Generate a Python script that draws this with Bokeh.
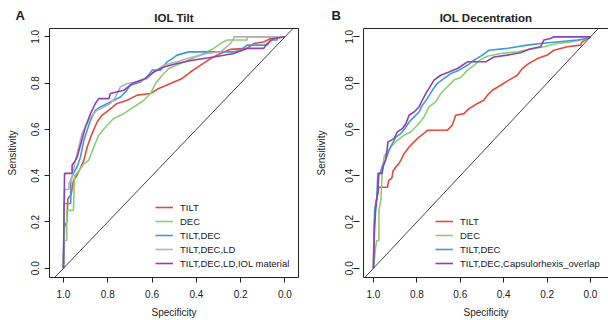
from bokeh.plotting import figure
from bokeh.layouts import row
from bokeh.models import (Range1d, FixedTicker, PrintfTickFormatter, Slope, Legend,
                          LegendItem, Title, LinearAxis)
from bokeh.embed import file_html
from bokeh.resources import INLINE

# ---------------- data ----------------
TICKS = [0.0, 0.2, 0.4, 0.6, 0.8, 1.0]

# Panel A: IOL Tilt
a_tilt_spec = [1.0, 1.0, 0.995, 0.985, 0.98, 0.965, 0.955, 0.94, 0.925, 0.908, 0.893, 0.871, 0.848, 0.826, 0.795, 0.758, 0.712, 0.667, 0.607, 0.570, 0.517, 0.464, 0.427, 0.382, 0.336, 0.291, 0.246, 0.171, 0.141, 0.096, 0.065, 0.0]
a_tilt_sens = [0.0, 0.05, 0.18, 0.20, 0.30, 0.32, 0.38, 0.40, 0.43, 0.466, 0.524, 0.582, 0.632, 0.661, 0.683, 0.712, 0.726, 0.748, 0.755, 0.777, 0.798, 0.820, 0.848, 0.877, 0.906, 0.928, 0.946, 0.950, 0.971, 0.978, 0.993, 1.0]

a_dec_spec = [1.0, 0.995, 0.985, 0.985, 0.955, 0.95, 0.93, 0.91, 0.886, 0.863, 0.841, 0.803, 0.773, 0.728, 0.682, 0.637, 0.607, 0.585, 0.554, 0.524, 0.472, 0.419, 0.367, 0.321, 0.291, 0.261, 0.171, 0.171, 0.0]
a_dec_sens = [0.0, 0.12, 0.12, 0.25, 0.25, 0.40, 0.42, 0.45, 0.466, 0.524, 0.575, 0.618, 0.647, 0.668, 0.697, 0.726, 0.755, 0.798, 0.834, 0.863, 0.885, 0.906, 0.928, 0.950, 0.971, 0.986, 0.986, 1.0, 1.0]

a_tiltdec_spec = [1.0, 0.997, 0.967, 0.967, 0.955, 0.938, 0.923, 0.908, 0.893, 0.878, 0.856, 0.833, 0.773, 0.743, 0.720, 0.698, 0.652, 0.622, 0.600, 0.562, 0.532, 0.509, 0.487, 0.434, 0.231, 0.201, 0.171, 0.080, 0.065, 0.035, 0.035, 0.0]
a_tiltdec_sens = [0.0, 0.28, 0.28, 0.38, 0.41, 0.44, 0.481, 0.553, 0.596, 0.639, 0.683, 0.697, 0.726, 0.740, 0.762, 0.791, 0.805, 0.827, 0.856, 0.856, 0.892, 0.906, 0.921, 0.935, 0.935, 0.942, 0.964, 0.964, 0.986, 0.986, 1.0, 1.0]

a_tiltdecld_spec = [1.0, 0.995, 0.975, 0.975, 0.96, 0.95, 0.931, 0.916, 0.893, 0.871, 0.848, 0.818, 0.788, 0.765, 0.743, 0.712, 0.667, 0.622, 0.592, 0.547, 0.487, 0.442, 0.352, 0.291, 0.246, 0.231, 0.231, 0.0]
a_tiltdecld_sens = [0.0, 0.34, 0.34, 0.365, 0.40, 0.45, 0.524, 0.582, 0.625, 0.661, 0.683, 0.697, 0.712, 0.740, 0.784, 0.798, 0.805, 0.820, 0.848, 0.877, 0.892, 0.906, 0.928, 0.935, 0.971, 0.993, 1.0, 1.0]

a_all_spec = [1.0, 0.997, 0.995, 0.961, 0.961, 0.946, 0.938, 0.901, 0.878, 0.856, 0.841, 0.795, 0.788, 0.728, 0.690, 0.630, 0.592, 0.547, 0.487, 0.419, 0.321, 0.231, 0.171, 0.096, 0.080, 0.050, 0.0]
a_all_sens = [0.0, 0.28, 0.41, 0.41, 0.445, 0.466, 0.481, 0.610, 0.668, 0.712, 0.733, 0.733, 0.755, 0.769, 0.798, 0.820, 0.848, 0.870, 0.885, 0.899, 0.913, 0.928, 0.950, 0.950, 0.971, 0.993, 1.0]

# Panel B: IOL Decentration
b_tilt_spec = [1.0, 1.0, 0.995, 0.99, 0.98, 0.975, 0.935, 0.93, 0.915, 0.91, 0.895, 0.885, 0.874, 0.859, 0.836, 0.813, 0.790, 0.759, 0.752, 0.660, 0.637, 0.621, 0.583, 0.560, 0.521, 0.491, 0.475, 0.452, 0.414, 0.376, 0.337, 0.314, 0.284, 0.245, 0.199, 0.169, 0.107, 0.046, 0.038, 0.0]
b_tilt_sens = [0.0, 0.05, 0.20, 0.28, 0.32, 0.35, 0.35, 0.38, 0.39, 0.42, 0.44, 0.45, 0.466, 0.495, 0.524, 0.546, 0.567, 0.589, 0.596, 0.596, 0.618, 0.661, 0.668, 0.690, 0.712, 0.726, 0.748, 0.769, 0.791, 0.813, 0.834, 0.863, 0.885, 0.906, 0.921, 0.942, 0.957, 0.964, 0.978, 1.0]

b_dec_spec = [1.0, 0.99, 0.985, 0.975, 0.975, 0.965, 0.96, 0.951, 0.943, 0.920, 0.890, 0.859, 0.828, 0.798, 0.767, 0.744, 0.713, 0.690, 0.660, 0.629, 0.598, 0.567, 0.537, 0.506, 0.475, 0.414, 0.337, 0.276, 0.215, 0.153, 0.092, 0.046, 0.015, 0.0]
b_dec_sens = [0.0, 0.09, 0.12, 0.12, 0.25, 0.30, 0.42, 0.481, 0.495, 0.524, 0.553, 0.575, 0.589, 0.618, 0.654, 0.697, 0.719, 0.755, 0.784, 0.813, 0.824, 0.856, 0.877, 0.902, 0.916, 0.928, 0.935, 0.946, 0.957, 0.971, 0.978, 0.986, 0.993, 1.0]

b_tiltdec_spec = [1.0, 0.995, 0.985, 0.98, 0.97, 0.96, 0.945, 0.928, 0.913, 0.897, 0.874, 0.856, 0.836, 0.813, 0.790, 0.775, 0.752, 0.729, 0.706, 0.675, 0.644, 0.606, 0.567, 0.537, 0.498, 0.468, 0.383, 0.291, 0.230, 0.061, 0.015, 0.0]
b_tiltdec_sens = [0.0, 0.25, 0.30, 0.41, 0.41, 0.44, 0.466, 0.510, 0.539, 0.567, 0.582, 0.603, 0.632, 0.654, 0.675, 0.704, 0.733, 0.769, 0.798, 0.820, 0.841, 0.856, 0.877, 0.899, 0.921, 0.942, 0.950, 0.964, 0.971, 0.986, 0.993, 1.0]

b_all_spec = [1.0, 0.995, 0.99, 0.985, 0.98, 0.975, 0.96, 0.955, 0.945, 0.939, 0.933, 0.905, 0.890, 0.867, 0.851, 0.836, 0.813, 0.790, 0.775, 0.759, 0.744, 0.721, 0.690, 0.652, 0.613, 0.567, 0.483, 0.445, 0.383, 0.322, 0.284, 0.230, 0.215, 0.184, 0.169, 0.0]
b_all_sens = [0.0, 0.18, 0.25, 0.30, 0.33, 0.41, 0.41, 0.44, 0.466, 0.50, 0.546, 0.560, 0.589, 0.603, 0.625, 0.661, 0.675, 0.697, 0.726, 0.755, 0.777, 0.813, 0.834, 0.848, 0.863, 0.892, 0.892, 0.913, 0.921, 0.931, 0.946, 0.957, 0.986, 0.993, 1.0, 1.0]

labels_a = ["TILT", "DEC", "TILT,DEC", "TILT,DEC,LD", "TILT,DEC,LD,IOL material"]
labels_b = ["TILT", "DEC", "TILT,DEC", "TILT,DEC,Capsulorhexis_overlap"]

RED, GREEN, BLUE, GRAY, PURPLE = "#E44B3C", "#8ACF74", "#3C9BDA", "#B4B4B4", "#9140B0"

FONT = "Liberation Sans"
INK = "#222222"


def make_panel(width, mb_left, mb_right, x_start, x_end, title, letter, letter_off,
               curves, labels, colors, legend_x, boxed, tick_in, tick_out,
               lab_standoff, axlab_standoff):
    p = figure(width=width, height=320, x_range=Range1d(x_start, x_end),
               y_range=Range1d(-0.04, 1.036), output_backend="svg",
               toolbar_location=None, min_border_left=mb_left,
               min_border_right=mb_right, min_border_top=28, min_border_bottom=43,
               title=None)
    p.grid.visible = False
    p.background_fill_color = "white"
    p.border_fill_color = "white"

    for ax in (p.xaxis[0], p.yaxis[0]):
        ax.ticker = FixedTicker(ticks=TICKS)
        ax.formatter = PrintfTickFormatter(format="%.1f")
        ax.minor_tick_line_color = None
        ax.major_tick_line_color = INK
        ax.major_label_text_font = FONT
        ax.major_label_text_font_size = "10px"
        ax.major_label_text_color = INK
        ax.axis_label_text_font = FONT
        ax.axis_label_text_font_size = "10px"
        ax.axis_label_text_font_style = "normal"
        ax.axis_label_text_color = INK
        ax.axis_line_color = None if boxed else INK
    p.xaxis.axis_label = "Specificity"
    p.yaxis.axis_label = "Sensitivity"
    p.xaxis.major_tick_in = 0
    p.xaxis.major_tick_out = 5
    p.xaxis.major_label_standoff = 7
    p.xaxis.axis_label_standoff = 6
    p.yaxis.major_tick_in = tick_in
    p.yaxis.major_tick_out = tick_out
    p.yaxis.major_label_orientation = "vertical"
    p.yaxis.major_label_standoff = lab_standoff
    p.yaxis.axis_label_standoff = axlab_standoff

    if boxed:
        p.outline_line_color = INK
        p.outline_line_width = 1
    else:
        p.outline_line_color = None
        top = LinearAxis(ticker=FixedTicker(ticks=[]), major_label_text_font_size="0px",
                         major_tick_line_color=None, minor_tick_line_color=None,
                         major_label_standoff=0, major_tick_out=0, axis_line_color=INK)
        p.add_layout(top, "above")

    # panel title (closest to the frame), then the panel letter
    p.add_layout(Title(text=title, align="center", text_font=FONT,
                       text_font_size="11.5px", text_font_style="bold",
                       text_color=INK, standoff=9), "above")
    p.add_layout(Title(text=letter, align="left", offset=letter_off, text_font=FONT,
                       text_font_size="13px", text_font_style="bold",
                       text_color=INK, standoff=-35), "above")

    p.add_layout(Slope(gradient=-1, y_intercept=1, line_color="#444444", line_width=1))

    items = []
    for (sp, se), lab, col in zip(curves, labels, colors):
        if len(sp) != len(se):
            raise ValueError(lab)
        r = p.line(sp, se, line_color=col, line_width=1.6)
        items.append(LegendItem(label=lab, renderers=[r]))

    legend = Legend(items=items, location=(legend_x, 7), orientation="vertical",
                    border_line_color=None, background_fill_alpha=0, padding=0,
                    spacing=0, margin=0, label_height=14, glyph_height=14,
                    glyph_width=18, label_standoff=7, label_text_font=FONT,
                    label_text_font_size="9.5px", label_text_color=INK)
    p.add_layout(legend)
    return p


pa = make_panel(310, 49, 12, 1.063, -0.061, "IOL Tilt", "A", -34,
                [(a_tilt_spec, a_tilt_sens), (a_dec_spec, a_dec_sens),
                 (a_tiltdec_spec, a_tiltdec_sens), (a_tiltdecld_spec, a_tiltdecld_sens),
                 (a_all_spec, a_all_sens)],
                labels_a, [RED, GREEN, BLUE, GRAY, PURPLE], 106, True, 0, 5, 5, 11)

pb = make_panel(298, 53, 0, 1.046, -0.083, "IOL Decentration", "B", -32,
                [(b_tilt_spec, b_tilt_sens), (b_dec_spec, b_dec_sens),
                 (b_tiltdec_spec, b_tiltdec_sens), (b_all_spec, b_all_sens)],
                labels_b, [RED, GREEN, BLUE, PURPLE], 72, False, -4, 10, 0, 16)

layout = row(pa, pb)
open("out.html", "w").write(file_html(layout, INLINE))
